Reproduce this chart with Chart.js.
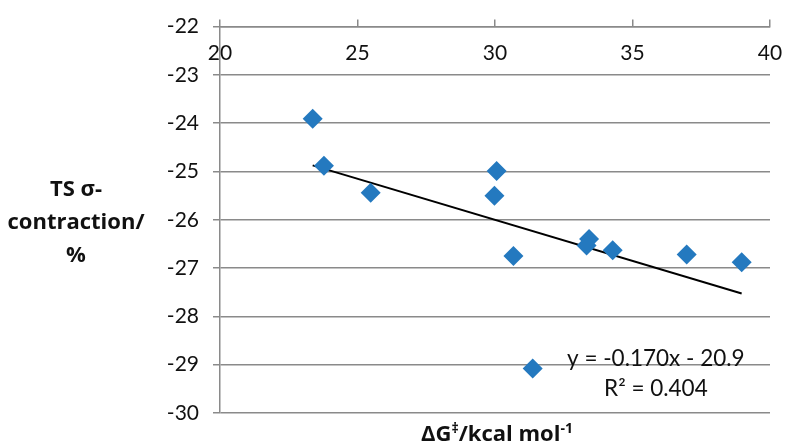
<!DOCTYPE html>
<html>
<head>
<meta charset="utf-8">
<script src="https://cdn.jsdelivr.net/npm/chart.js@4.4.1/dist/chart.umd.min.js"></script>
<style>
  html, body { margin: 0; padding: 0; background: #fff; }
  #wrap { width: 787px; height: 446px; }
</style>
</head>
<body>
<div id="wrap"><canvas id="scatter"></canvas></div>
<script>
// dG‡ (kcal/mol) vs TS sigma-contraction (%)
var dgValues = [23.37, 23.78, 25.48, 30.06, 29.98, 30.67, 31.37, 33.42, 33.33, 34.28, 36.97, 38.97];
var sigmaValues = [-23.91, -24.88, -25.44, -24.99, -25.50, -26.75, -29.08, -26.40, -26.53, -26.63, -26.72, -26.88];

var xTicks = [20, 25, 30, 35, 40];
var yTicks = [-30, -29, -28, -27, -26, -25, -24, -23, -22];

var fitSlope = -0.170;
var fitIntercept = -20.9;
var fitR2 = 0.404;

var gridGray = '#8a8a8a';
var textColor = '#111';
var baseFont = 'Lato, "Open Sans", sans-serif';
var boldFont = '"Open Sans", Lato, sans-serif';

var points = dgValues.map(function(x, i) { return {x: x, y: sigmaValues[i]}; });
var xMin = Math.min.apply(null, dgValues);
var xMax = Math.max.apply(null, dgValues);
var trend = [xMin, xMax].map(function(x) { return {x: x, y: fitSlope * x + fitIntercept}; });

// tick labels of the top axis sit inside the plot, plus the titles and the fit label
var labelsPlugin = {
    id: 'labels',
    afterDraw: function(chart) {
        var ctx = chart.ctx;
        var area = chart.chartArea;
        var xs = chart.scales.x, ys = chart.scales.y;
        ctx.save();
        ctx.fillStyle = textColor;

        ctx.font = '21px ' + baseFont;
        ctx.textAlign = 'center';
        ctx.textBaseline = 'middle';
        xTicks.forEach(function(v) {
            ctx.fillText(String(v), xs.getPixelForValue(v), area.top + 27);
        });

        // trendline equation
        ctx.font = '22.5px ' + baseFont;
        var ex = xs.getPixelForValue(35.85);
        ctx.fillText('y = ' + fitSlope.toFixed(3) + 'x - ' + Math.abs(fitIntercept).toFixed(1), ex, ys.getPixelForValue(-28.87));
        ctx.fillText('R² = ' + fitR2.toFixed(3), ex, ys.getPixelForValue(-29.49));

        // y title
        ctx.font = 'bold 22px ' + boldFont;
        var yLines = ['TS σ-', 'contraction/', '%'];
        yLines.forEach(function(t, i) {
            ctx.fillText(t, 76, 190 + i * 33);
        });

        // x title with superscripts
        var parts = [
            {t: 'ΔG', sup: false},
            {t: '‡', sup: true},
            {t: '/kcal mol', sup: false},
            {t: '-1', sup: true}
        ];
        var bigFont = 'bold 22px ' + boldFont, smallFont = 'bold 14px ' + boldFont;
        var total = 0;
        parts.forEach(function(p) {
            ctx.font = p.sup ? smallFont : bigFont;
            p.w = ctx.measureText(p.t).width;
            total += p.w;
        });
        var cx = 497 - total / 2;
        var baseY = 441;
        ctx.textAlign = 'left';
        ctx.textBaseline = 'alphabetic';
        parts.forEach(function(p) {
            ctx.font = p.sup ? smallFont : bigFont;
            ctx.fillText(p.t, cx, p.sup ? baseY - 8 : baseY);
            cx += p.w;
        });
        ctx.restore();
    }
};

new Chart(document.getElementById('scatter'), {
    type: 'scatter',
    data: {
        datasets: [
            {
                label: 'TS sigma-contraction',
                data: points,
                pointStyle: 'rectRot',
                pointRadius: 10,
                pointHoverRadius: 10,
                backgroundColor: '#2479bf',
                borderColor: '#2479bf',
                borderWidth: 0
            },
            {
                label: 'Linear fit',
                type: 'line',
                data: trend,
                borderColor: '#000',
                borderWidth: 2,
                pointRadius: 0,
                fill: false
            }
        ]
    },
    options: {
        responsive: true,
        maintainAspectRatio: false,
        animation: false,
        layout: { padding: { left: 0, right: 17, top: 0, bottom: 33 } },
        plugins: {
            legend: { display: false },
            tooltip: { enabled: false },
            title: { display: false }
        },
        scales: {
            x: {
                type: 'linear',
                position: 'top',
                min: 20,
                max: 40,
                afterBuildTicks: function(scale) {
                    scale.ticks = xTicks.map(function(v) { return {value: v}; });
                },
                afterFit: function(scale) { scale.height = 22.5; },
                ticks: { display: false },
                grid: { drawOnChartArea: false, drawTicks: true, tickLength: 7, color: gridGray, lineWidth: 1.5 },
                border: { display: true, color: gridGray, width: 1.5 }
            },
            y: {
                type: 'linear',
                min: -30,
                max: -22,
                afterBuildTicks: function(scale) {
                    scale.ticks = yTicks.map(function(v) { return {value: v}; });
                },
                afterFit: function(scale) { scale.width = 220; },
                ticks: { color: textColor, font: { family: baseFont, size: 21 }, padding: 14 },
                grid: { color: gridGray, lineWidth: 1.5, tickLength: 7 },
                border: { display: true, color: gridGray, width: 1.5 }
            }
        }
    },
    plugins: [labelsPlugin]
});
</script>
</body>
</html>
